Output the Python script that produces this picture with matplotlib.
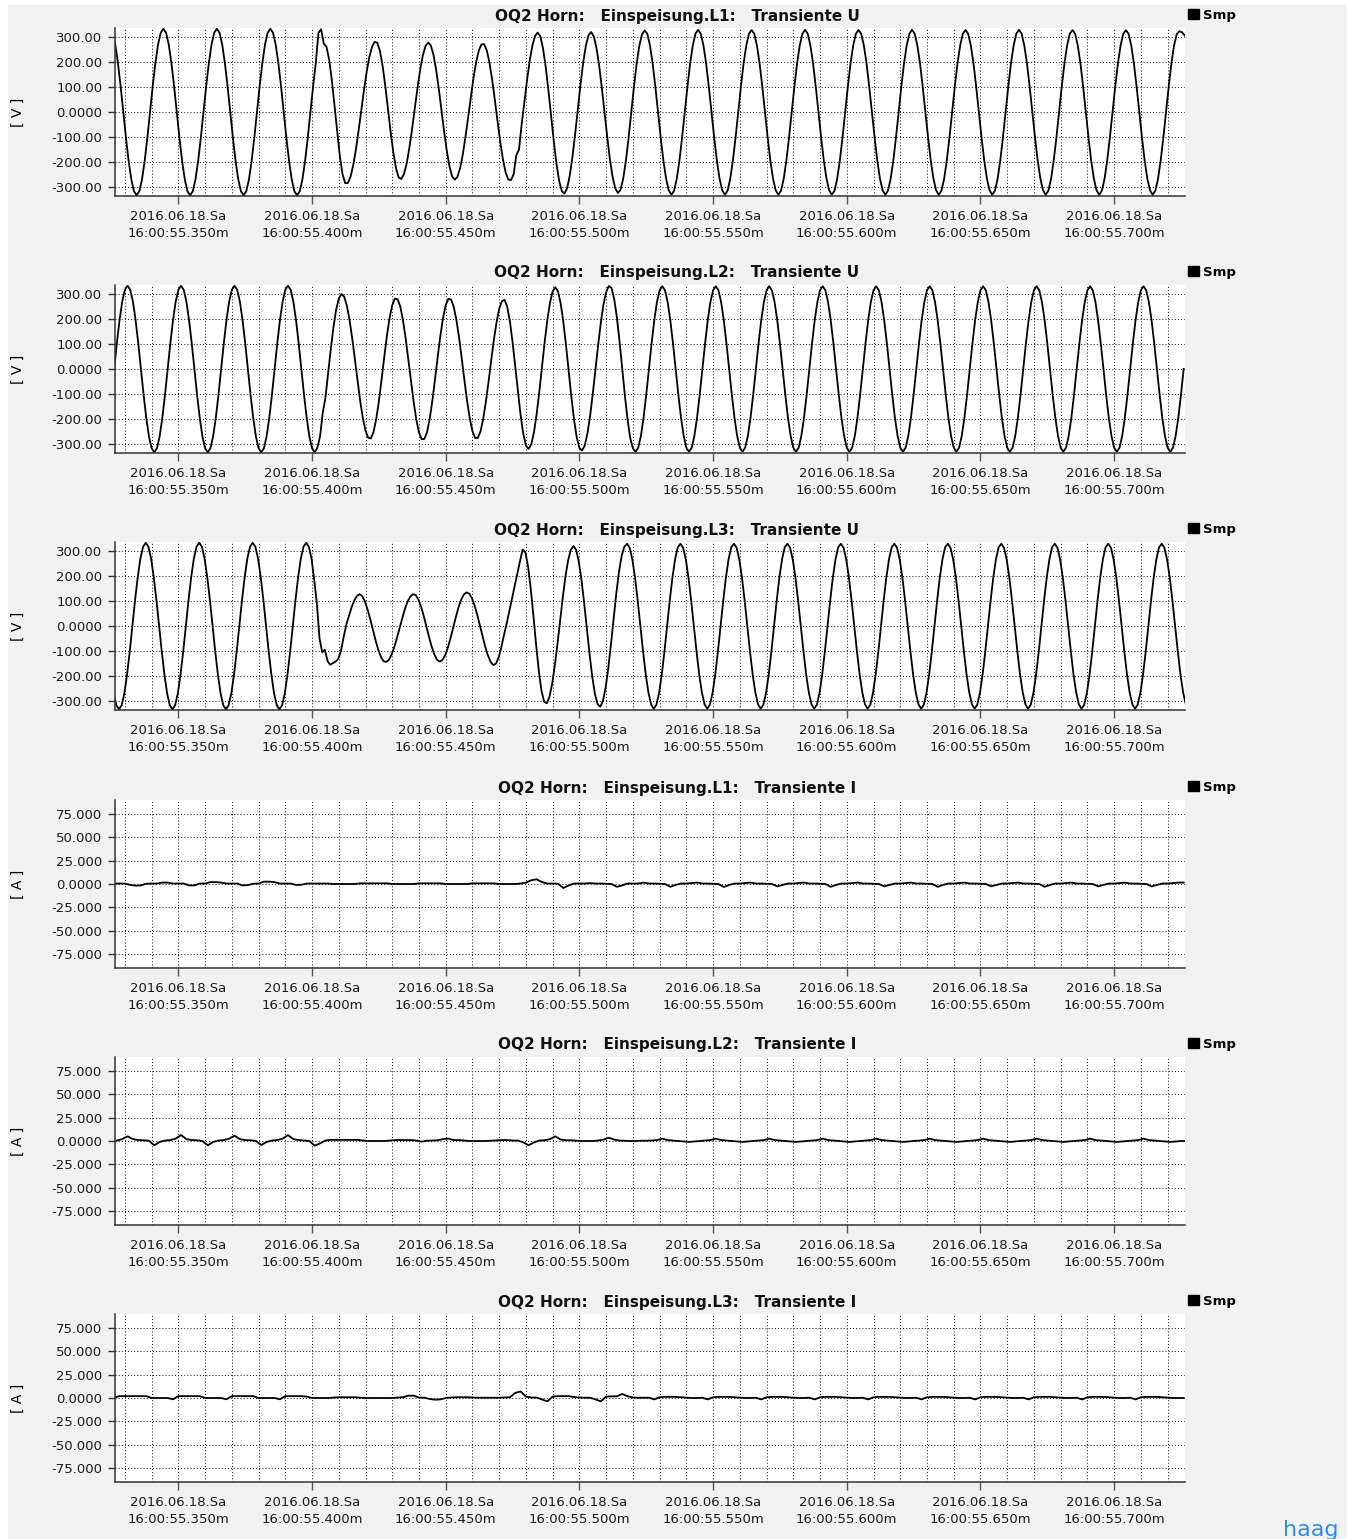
import numpy as np
import matplotlib
matplotlib.use('Agg')
import matplotlib.pyplot as plt
from matplotlib.patches import Patch, Rectangle
from matplotlib.ticker import MultipleLocator, FixedLocator

# time axis in ms after 16:00:55.300
x_range = (26.3, 426.5)
tick_ms = [50, 100, 150, 200, 250, 300, 350, 400]
tick_labels = ['2016.06.18.Sa\n16:00:55.%03dm' % (300 + m) for m in tick_ms]

# ---- voltages [V], one sample per ms, one row = one 20 ms cycle ----
u_step_ms = 1.0

u_l1_t0 = 24.4
u_l1 = [
    332, 316, 269, 195, 103, 0, -103, -195, -269, -316, -332, -316, -269, -195, -103, 0, 103, 195, 269, 316,
    332, 316, 269, 195, 103, 0, -103, -195, -269, -316, -332, -316, -269, -195, -103, 0, 103, 195, 269, 316,
    332, 316, 269, 195, 103, 0, -103, -195, -269, -316, -332, -316, -269, -195, -103, 0, 103, 195, 269, 316,
    332, 316, 269, 195, 103, 0, -103, -195, -269, -316, -332, -316, -269, -195, -103, 0, 103, 195, 316, 330,
    272, 260, 209, 127, 25, -81, -177, -248, -284, -283, -258, -212, -150, -75, 6, 85, 158, 218, 259, 280,
    276, 243, 183, 103, 12, -80, -161, -224, -261, -267, -247, -205, -143, -69, 13, 93, 166, 224, 262, 277,
    266, 229, 169, 93, 8, -78, -155, -217, -257, -270, -258, -223, -168, -98, -19, 62, 137, 200, 246, 270,
    270, 244, 194, 126, 46, -39, -120, -189, -241, -269, -272, -248, -172, -150, -49, 39, 126, 204, 264, 303,
    317, 301, 253, 179, 87, -15, -115, -205, -274, -315, -325, -304, -253, -179, -88, 11, 109, 196, 264, 306,
    319, 301, 254, 184, 95, -2, -99, -188, -258, -304, -323, -310, -265, -193, -102, 0, 101, 192, 264, 309,
    325, 312, 265, 193, 101, 0, -101, -193, -265, -312, -330, -314, -267, -194, -102, 0, 101, 193, 265, 312,
    328, 312, 265, 193, 101, 0, -101, -193, -265, -312, -330, -314, -267, -194, -102, 0, 101, 193, 265, 312,
    327, 312, 265, 193, 101, 0, -101, -193, -265, -312, -330, -314, -267, -194, -102, 0, 101, 193, 265, 312,
    328, 312, 265, 193, 101, 0, -101, -193, -265, -312, -330, -314, -267, -194, -102, 0, 101, 193, 265, 312,
    327, 312, 265, 193, 101, 0, -101, -193, -265, -312, -330, -314, -267, -194, -102, 0, 101, 193, 265, 312,
    328, 312, 265, 193, 101, 0, -101, -193, -265, -312, -330, -314, -267, -194, -102, 0, 101, 193, 265, 312,
    327, 312, 265, 193, 101, 0, -101, -193, -265, -312, -330, -314, -267, -194, -102, 0, 101, 193, 265, 312,
    328, 312, 265, 193, 101, 0, -101, -193, -265, -312, -330, -314, -267, -194, -102, 0, 101, 193, 265, 312,
    327, 312, 265, 193, 101, 0, -101, -193, -265, -312, -330, -314, -267, -194, -102, 0, 101, 193, 265, 312,
    326, 312, 265, 193, 101, 0, -101, -193, -265, -312, -330, -314, -267, -194, -102, 0, 101, 193, 265, 310,
    322, 318, 305,
]

u_l2_t0 = 21.0
u_l2 = [
    -332, -316, -269, -195, -103, 0, 103, 195, 269, 316, 332, 316, 269, 195, 103, 0, -103, -195, -269, -316,
    -332, -316, -269, -195, -103, 0, 103, 195, 269, 316, 332, 316, 269, 195, 103, 0, -103, -195, -269, -316,
    -332, -316, -269, -195, -103, 0, 103, 195, 269, 316, 332, 316, 269, 195, 103, 0, -103, -195, -269, -316,
    -332, -316, -269, -195, -103, 0, 103, 195, 269, 316, 332, 316, 269, 195, 103, 0, -103, -195, -269, -316,
    -332, -314, -268, -175, -115, -16, 79, 166, 236, 281, 299, 289, 254, 197, 124, 40, -46, -127, -196, -246,
    -274, -277, -251, -200, -128, -43, 47, 132, 204, 255, 281, 278, 249, 195, 123, 39, -48, -131, -202, -253,
    -280, -279, -252, -199, -126, -41, 49, 133, 204, 255, 280, 277, 248, 195, 124, 41, -46, -128, -198, -248,
    -275, -275, -249, -200, -132, -52, 34, 116, 186, 240, 270, 276, 248, 190, 107, 9, -91, -184, -258, -305,
    -319, -300, -253, -180, -91, 8, 107, 195, 265, 310, 326, 309, 261, 186, 93, -10, -112, -203, -273, -315,
    -325, -305, -257, -187, -99, -2, 95, 184, 257, 307, 331, 323, 280, 207, 111, 3, -105, -201, -275, -317,
    -330, -314, -267, -194, -102, 0, 102, 194, 267, 314, 330, 314, 267, 194, 102, 0, -102, -194, -267, -314,
    -330, -314, -267, -194, -102, 0, 102, 194, 267, 314, 330, 314, 267, 194, 102, 0, -102, -194, -267, -314,
    -330, -314, -267, -194, -102, 0, 102, 194, 267, 314, 330, 314, 267, 194, 102, 0, -102, -194, -267, -314,
    -330, -314, -267, -194, -102, 0, 102, 194, 267, 314, 330, 314, 267, 194, 102, 0, -102, -194, -267, -314,
    -330, -314, -267, -194, -102, 0, 102, 194, 267, 314, 330, 314, 267, 194, 102, 0, -102, -194, -267, -314,
    -330, -314, -267, -194, -102, 0, 102, 194, 267, 314, 330, 314, 267, 194, 102, 0, -102, -194, -267, -314,
    -330, -314, -267, -194, -102, 0, 102, 194, 267, 314, 330, 314, 267, 194, 102, 0, -102, -194, -267, -314,
    -330, -314, -267, -194, -102, 0, 102, 194, 267, 314, 330, 314, 267, 194, 102, 0, -102, -194, -267, -314,
    -330, -314, -267, -194, -102, 0, 102, 194, 267, 314, 330, 314, 267, 194, 102, 0, -102, -194, -267, -314,
    -330, -314, -267, -194, -102, 0, 102, 194, 267, 314, 330, 314, 267, 194, 102, 0, -102, -194, -267, -314,
    -330, -314, -267, -194, -102, 0,
]

u_l3_t0 = 17.8
u_l3 = [
    332, 316, 269, 195, 103, 0, -103, -195, -269, -316, -332, -316, -269, -195, -103, 0, 103, 195, 269, 316,
    332, 316, 269, 195, 103, 0, -103, -195, -269, -316, -332, -316, -269, -195, -103, 0, 103, 195, 269, 316,
    332, 316, 269, 195, 103, 0, -103, -195, -269, -316, -332, -316, -269, -195, -103, 0, 103, 195, 269, 316,
    332, 316, 269, 195, 103, 0, -103, -195, -269, -316, -332, -316, -269, -195, -103, 0, 103, 195, 269, 316,
    332, 316, 269, 185, 90, -50, -105, -95, -140, -155, -148, -142, -131, -100, -45, 5, 40, 75, 102, 120,
    127, 119, 97, 65, 26, -17, -59, -96, -124, -141, -143, -134, -113, -83, -46, -6, 33, 70, 99, 118,
    127, 123, 105, 76, 39, -3, -46, -84, -115, -135, -142, -135, -116, -86, -48, -6, 36, 75, 105, 126,
    134, 129, 111, 81, 44, 1, -43, -84, -118, -143, -156, -150, -125, -85, -35, 10, 60, 110, 160, 210,
    260, 305, 293, 237, 148, 40, -74, -178, -257, -302, -308, -282, -231, -158, -71, 23, 116, 199, 263, 304,
    319, 303, 255, 182, 89, -12, -113, -202, -271, -312, -322, -299, -246, -168, -72, 31, 130, 216, 280, 316,
    328, 312, 265, 193, 101, 0, -101, -193, -265, -312, -330, -314, -267, -194, -102, 0, 102, 194, 267, 314,
    328, 312, 265, 193, 101, 0, -101, -193, -265, -312, -330, -314, -267, -194, -102, 0, 102, 194, 267, 314,
    328, 312, 265, 193, 101, 0, -101, -193, -265, -312, -330, -314, -267, -194, -102, 0, 102, 194, 267, 314,
    328, 312, 265, 193, 101, 0, -101, -193, -265, -312, -330, -314, -267, -194, -102, 0, 102, 194, 267, 314,
    328, 312, 265, 193, 101, 0, -101, -193, -265, -312, -330, -314, -267, -194, -102, 0, 102, 194, 267, 314,
    328, 312, 265, 193, 101, 0, -101, -193, -265, -312, -330, -314, -267, -194, -102, 0, 102, 194, 267, 314,
    328, 312, 265, 193, 101, 0, -101, -193, -265, -312, -330, -314, -267, -194, -102, 0, 102, 194, 267, 314,
    328, 312, 265, 193, 101, 0, -101, -193, -265, -312, -330, -314, -267, -194, -102, 0, 102, 194, 267, 314,
    328, 312, 265, 193, 101, 0, -101, -193, -265, -312, -330, -314, -267, -194, -102, 0, 102, 194, 267, 314,
    328, 312, 265, 193, 101, 0, -101, -193, -265, -312, -330, -314, -267, -194, -102, 0, 102, 194, 267, 314,
    328, 312, 265, 193, 101, 0, -101, -193, -265, -312,
]

# ---- currents [A], one sample per 2 ms ----
i_step_ms = 2.0

i_l1_t0 = 26.0
i_l1 = [
    0.5, 0.5, 0.5, -1, -1.8, -1.5, 0.3, 0.5, 0.5, 1.5,
    1.5, 0.5, 0.5, 0.5, -1.5, -1.5, 0.5, 0.5, 2, 2,
    1.5, 0.5, 0.5, 0.5, -1.5, -1.2, 0.3, 0.5, 2.5, 2.5,
    2, 0.5, 0.5, 0.5, -1, -0.8, 0.5, 0.5, 0.5, 0.5,
    0.5, 0, 0, 0, 0, 0, 0.7, 0.7, 0.7, 0.7,
    0.7, 0.7, 0, 0, 0, 0, 0, 0.7, 0.7, 0.7,
    0.7, 0.7, 0, 0, 0, 0, 0, 0.7, 0.7, 0.7,
    0.7, 0.7, 0, 0, 0, 0, 0.5, 1.5, 4, 5,
    2, 0.5, 0.5, 0.3, -4.3, -1.5, 0.5, 0.5, 0.5, 1,
    0.5, 0.5, 0.3, 0, -3, -1.5, 0.5, 0.5, 0.5, 1.5,
    0.5, 0.5, 0.3, 0, -3, -1, 0.5, 0.5, 1, 1.5,
    0.5, 0.5, 0.3, 0, -3.2, -1, 0.5, 0.5, 1, 1.5,
    0.5, 0.5, 0.3, 0, -2.5, -1, 0.5, 0.5, 1, 1.5,
    0.5, 0.5, 0.3, 0, -3, -1, 0.5, 0.5, 1, 1.5,
    0.5, 0.5, 0.3, 0, -2.5, -1, 0.5, 0.5, 1, 1.5,
    0.5, 0.5, 0.3, 0, -3, -1, 0.5, 0.5, 1, 1.5,
    0.5, 0.5, 0.3, 0, -2.5, -1, 0.5, 0.5, 1, 1.5,
    0.5, 0.5, 0.3, 0, -3, -1, 0.5, 0.5, 1, 1.5,
    0.5, 0.5, 0.3, 0, -2.5, -1, 0.5, 0.5, 1, 1.5,
    0.5, 0.5, 0.3, 0, -2.5, -1, 0.5, 0.5, 1, 1.5,
    1.5,
]

i_l2_t0 = 27.0
i_l2 = [
    0.5, 2, 5, 2, 1, 0.8, 0.3, -4.6, -1, 0.5,
    1, 2.5, 6.4, 2, 1, 0.8, 0, -4.6, -1, 0.5,
    1, 2.5, 5.7, 2, 1, 0.8, 0, -4.3, -1, 0.5,
    1, 2.5, 6.4, 2, 1, 0.5, 0, -5, -2.5, 0.5,
    1.2, 1.2, 1.2, 1.2, 1.2, 1.2, 0.5, 0, 0, 0,
    0, 0.5, 1, 1, 1, 1, 0.5, -0.7, 0.3, 0.5,
    0.8, 2, 2.5, 1, 1, 0.5, 0, 0, 0, 0,
    0.3, 0.5, 1, 1, 0.5, 0.5, -1.5, -4.6, -1.5, 0.5,
    0.8, 2, 5, 1.5, 0.8, 0.8, 0.3, 0, 0, 0,
    0.5, 1.5, 3.5, 1.5, 0.5, 0.2, 0, 0, 0.3, 0.3,
    0.5, 1, 2.5, 1, 0.5, 0, -0.5, -1, -0.5, 0,
    0.5, 1, 2.5, 1, 0.5, 0, -0.5, -1, -0.5, 0,
    0.5, 1, 2.5, 1, 0.5, 0, -0.5, -1, -0.5, 0,
    0.5, 1, 2.5, 1, 0.5, 0, -0.5, -1, -0.5, 0,
    0.5, 1, 2.5, 1, 0.5, 0, -0.5, -1, -0.5, 0,
    0.5, 1, 2.5, 1, 0.5, 0, -0.5, -1, -0.5, 0,
    0.5, 1, 2.5, 1, 0.5, 0, -0.5, -1, -0.5, 0,
    0.5, 1, 2.5, 1, 0.5, 0, -0.5, -1, -0.5, 0,
    0.5, 1, 2.5, 1, 0.5, 0, -0.5, -1, -0.5, 0,
    0.5, 1, 2.5, 1, 0.5, 0, -0.5, -1, -0.5, 0,
    0,
]

i_l3_t0 = 26.0
i_l3 = [
    0.5, 2, 2, 2, 2, 2, 2, 0, 0, 0,
    0, -1.4, 2, 2, 2, 2, 2, 0, 0, 0,
    0, -1.4, 2, 2, 2, 2, 2, 0, 0, 0,
    0, -1.4, 2, 2, 2, 2, 1.5, 0, 0, 0,
    0, 0.5, 0.8, 0.8, 0.8, 0.8, 0.3, 0, 0, 0,
    0, 0, 0, 0.5, 0.8, 2.5, 2.5, 0.5, 0.3, -1,
    -1.8, -1.5, 0, 0.5, 0.8, 0.8, 0.8, 0.5, 0.3, 0.3,
    0.3, 0.3, 0.3, 0.5, 0.8, 5.5, 7, 1.5, 0.5, 0.5,
    -1.5, -3.6, 1.5, 2, 2, 2, 1, 0.5, 0.3, 0.3,
    -1.5, -3.6, 1.5, 1.8, 1.8, 4.3, 2, 0.5, 0.3, 0.3,
    0.3, -1.5, 0.8, 1.2, 1.2, 1.2, 0.8, 0.3, 0, 0,
    0.3, -1.5, 0.8, 1.2, 1.2, 1.2, 0.8, 0.3, 0, 0,
    0.3, -1.5, 0.8, 1.2, 1.2, 1.2, 0.8, 0.3, 0, 0,
    0.3, -1.5, 0.8, 1.2, 1.2, 1.2, 0.8, 0.3, 0, 0,
    0.3, -1.5, 0.8, 1.2, 1.2, 1.2, 0.8, 0.3, 0, 0,
    0.3, -1.5, 0.8, 1.2, 1.2, 1.2, 0.8, 0.3, 0, 0,
    0.3, -1.5, 0.8, 1.2, 1.2, 1.2, 0.8, 0.3, 0, 0,
    0.3, -1.5, 0.8, 1.2, 1.2, 1.2, 0.8, 0.3, 0, 0,
    0.3, -1.5, 0.8, 1.2, 1.2, 1.2, 0.8, 0.3, 0, 0,
    0.3, -1.5, 0.8, 1.2, 1.2, 1.2, 0.8, 0.3, 0, 0,
    0,
]

u_ticks = [300, 200, 100, 0, -100, -200, -300]
u_ticklabels = ['300.00', '200.00', '100.00', '0.0000', '-100.00', '-200.00', '-300.00']
i_ticks = [75, 50, 25, 0, -25, -50, -75]
i_ticklabels = ['75.000', '50.000', '25.000', '0.0000', '-25.000', '-50.000', '-75.000']

titles = [
    'OQ2 Horn:   Einspeisung.L1:   Transiente U',
    'OQ2 Horn:   Einspeisung.L2:   Transiente U',
    'OQ2 Horn:   Einspeisung.L3:   Transiente U',
    'OQ2 Horn:   Einspeisung.L1:   Transiente I',
    'OQ2 Horn:   Einspeisung.L2:   Transiente I',
    'OQ2 Horn:   Einspeisung.L3:   Transiente I',
]
series = [(u_l1_t0, u_step_ms, u_l1), (u_l2_t0, u_step_ms, u_l2), (u_l3_t0, u_step_ms, u_l3),
          (i_l1_t0, i_step_ms, i_l1), (i_l2_t0, i_step_ms, i_l2), (i_l3_t0, i_step_ms, i_l3)]

################################################################################

W, H = 1347, 1539
fig = plt.figure(figsize=(W / 100, H / 100), dpi=100, facecolor='white')
# grey window area, thin white margin on the left and top
fig.patches.append(Rectangle((8 / W, 0), 1, 1 - 5 / H, transform=fig.transFigure,
                             facecolor='#f1f1f1', edgecolor='none', zorder=-10))

panel_tops = [28, 285, 542, 800, 1057, 1314]   # pixel rows of the plot areas
panel_h = 168
ax_left, ax_w = 115, 1070

for k, (title, (t0, step, vals)) in enumerate(zip(titles, series)):
    top = panel_tops[k]
    ax = fig.add_axes([ax_left / W, 1 - (top + panel_h) / H, ax_w / W, panel_h / H])
    ax.set_facecolor('white')

    t = t0 + step * np.arange(len(vals))
    ax.plot(t, vals, color='black', lw=1.3)

    if k < 3:
        ax.set_ylim(-335, 335)
        ax.yaxis.set_major_locator(FixedLocator(u_ticks))
        ax.set_yticklabels(u_ticklabels)
        ax.set_ylabel('[ V ]', fontsize=10)
    else:
        ax.set_ylim(-90, 90)
        ax.yaxis.set_major_locator(FixedLocator(i_ticks))
        ax.set_yticklabels(i_ticklabels)
        ax.set_ylabel('[ A ]', fontsize=10)
    ax.yaxis.set_label_coords((25 - ax_left) / ax_w, 0.5)

    ax.set_xlim(*x_range)
    ax.xaxis.set_major_locator(FixedLocator(tick_ms))
    ax.set_xticklabels(tick_labels, linespacing=1.4)
    ax.xaxis.set_minor_locator(MultipleLocator(10))

    ax.grid(True, which='both', axis='x', color='#222222', lw=0.75, ls=(0, (1, 2)))
    ax.grid(True, which='major', axis='y', color='#222222', lw=0.75, ls=(0, (1, 2)))
    ax.set_axisbelow(True)

    for s in ['top', 'right']:
        ax.spines[s].set_visible(False)
    for s in ['left', 'bottom']:
        ax.spines[s].set_color('#333333')
        ax.spines[s].set_linewidth(1.1)

    ax.tick_params(axis='y', which='major', direction='out', length=5, width=1,
                   color='#333333', labelsize=9.5, pad=4, labelcolor='#1a1a1a')
    ax.tick_params(axis='x', which='major', direction='out', length=6, width=1,
                   color='#555555', labelsize=9.5, pad=4, labelcolor='#1a1a1a')
    ax.tick_params(axis='x', which='minor', length=0)

    ax.text((677 - ax_left) / ax_w, 1 + 12 / panel_h, title, transform=ax.transAxes,
            ha='center', va='center', fontsize=11, fontweight='bold', color='#111111')

    ax.legend(handles=[Patch(facecolor='black', edgecolor='black', label='Smp')],
              loc='upper left', bbox_to_anchor=(1.003, 1 + 19 / panel_h),
              frameon=False, borderaxespad=0, borderpad=0,
              handlelength=0.8, handleheight=0.8, handletextpad=0.3,
              prop={'weight': 'bold', 'size': 9.5})

fig.text(1283 / W, 1 - 1536 / H, 'haag', fontsize=16, color='#2a8cf0',
         ha='left', va='baseline')

fig.savefig('out.png', dpi=100, facecolor=fig.get_facecolor())
